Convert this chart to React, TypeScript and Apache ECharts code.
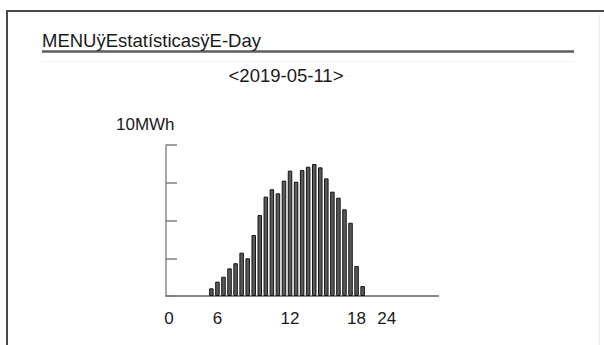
import React, { useEffect, useRef } from "react";
import * as echarts from "echarts";

const titleText = "MENUÿEstatísticasÿE-Day";
const dateText = "<2019-05-11>";
const unitText = "10MWh";

// x axis: half-hour style slots, labels shown only on a few slots
const slotCount = 45;
const tickLabels = ["0", "6", "12", "18", "24"];
const tickSlots = [0, 8, 20, 31, 36];
const firstBarSlot = 7;

// daily energy per slot (MWh)
const energy = [
  0.51, 0.95, 1.28, 1.83, 2.17, 2.87, 2.5, 4.04, 5.36, 6.58, 7.07, 6.8, 7.64,
  8.3, 7.57, 8.34, 8.56, 8.74, 8.52, 7.79, 6.91, 6.51, 5.74, 4.85, 1.99, 0.66,
];

const yMax = 10;
const yInterval = 2.5;

export default function App() {
  const ref = useRef<HTMLDivElement>(null);
  useEffect(() => {
    if (!ref.current) return;
    const chart = echarts.init(ref.current, null, { renderer: "svg" });
    const categories = Array.from({ length: slotCount }, (_, i) => String(i));
    const data = categories.map((_, i) => {
      const v = energy[i - firstBarSlot];
      return v === undefined ? "-" : v;
    });
    const font = "'Liberation Sans', Arial, sans-serif";
    chart.setOption({
      animation: false,
      backgroundColor: "#ffffff",
      grid: { left: 166, top: 145, width: 272.25, height: 151 },
      xAxis: {
        type: "category",
        data: categories,
        boundaryGap: true,
        axisLine: { show: true, lineStyle: { color: "#8a8a8a", width: 2 } },
        axisTick: { show: false },
        axisLabel: {
          interval: 0,
          margin: 14,
          color: "#1a1a1a",
          fontSize: 17,
          fontFamily: font,
          formatter: (_v: string, idx: number) => {
            const k = tickSlots.indexOf(idx);
            return k >= 0 ? tickLabels[k] : "";
          },
        },
        splitLine: { show: false },
      },
      yAxis: {
        type: "value",
        min: 0,
        max: yMax,
        interval: yInterval,
        axisLine: { show: true, lineStyle: { color: "#8a8a8a", width: 1.5 } },
        axisTick: {
          show: true,
          inside: true,
          length: 11,
          lineStyle: { color: "#808080", width: 1.5 },
        },
        axisLabel: { show: false },
        splitLine: { show: false },
      },
      series: [
        {
          type: "bar",
          data,
          barWidth: 4.5,
          itemStyle: { color: "#5a5a5a", borderColor: "#141414", borderWidth: 1 },
        },
      ],
      graphic: [
        {
          type: "rect",
          shape: { x: 7, y: 11, width: 640, height: 380 },
          style: { fill: "none", stroke: "#4a4a4a", lineWidth: 2 },
          silent: true,
        },
        {
          type: "line",
          shape: { x1: 599.5, y1: 14, x2: 599.5, y2: 345 },
          style: { stroke: "#ececec", lineWidth: 1 },
          silent: true,
        },
        {
          type: "line",
          shape: { x1: 42, y1: 51.5, x2: 574, y2: 51.5 },
          style: { stroke: "#5e5e5e", lineWidth: 2.5 },
          silent: true,
        },
        {
          type: "line",
          shape: { x1: 42, y1: 61.5, x2: 574, y2: 61.5 },
          style: { stroke: "#f2f2f2", lineWidth: 1 },
          silent: true,
        },
        {
          type: "text",
          x: 42,
          y: 40,
          style: {
            text: titleText,
            font: `18.5px ${font}`,
            fill: "#1a1a1a",
            textAlign: "left",
            textVerticalAlign: "middle",
          },
        },
        {
          type: "text",
          x: 286,
          y: 75,
          style: {
            text: dateText,
            font: `18.5px ${font}`,
            fill: "#1a1a1a",
            textAlign: "center",
            textVerticalAlign: "middle",
          },
        },
        {
          type: "text",
          x: 116,
          y: 124,
          style: {
            text: unitText,
            font: `17px ${font}`,
            fill: "#1a1a1a",
            textAlign: "left",
            textVerticalAlign: "middle",
          },
        },
      ],
    });
    return () => chart.dispose();
  }, []);
  return (
    <div
      ref={ref}
      style={{ position: "fixed", left: 0, top: 0, width: 604, height: 345 }}
    />
  );
}
